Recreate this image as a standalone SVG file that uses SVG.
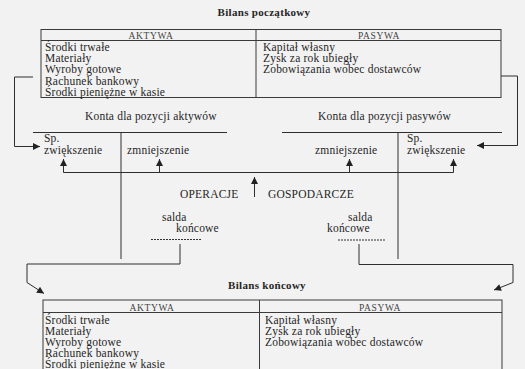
<svg xmlns="http://www.w3.org/2000/svg" width="525" height="369" viewBox="0 0 525 369">
<style>
text{font-family:"Liberation Serif","Times New Roman",serif;fill:#262626;font-size:11.5px;letter-spacing:0.2px}
.t{font-weight:bold;font-size:11px;letter-spacing:0.3px;text-anchor:middle}
.h{font-size:9.5px;letter-spacing:0.6px;text-anchor:middle;fill:#444}
.box{fill:none;stroke:#3a3a3a;stroke-width:1}
.ln{fill:none;stroke:#2e2e2e;stroke-width:1}
.dash{fill:none;stroke:#333;stroke-width:1;stroke-dasharray:2,1}
</style>
<defs>
<marker id="ah" viewBox="0 0 10 10" refX="10" refY="5" markerWidth="8" markerHeight="7" markerUnits="userSpaceOnUse" orient="auto">
<path d="M0,0 L10,5 L0,10 z" fill="#222"/>
</marker>
</defs>
<rect width="525" height="369" fill="#f2f2f2"/>

<g id="bilans-poczatkowy">
<text class="t" x="264" y="16">Bilans początkowy</text>
<rect class="box" x="41" y="29.5" width="460" height="68"/>
<line class="box" x1="41" y1="40.5" x2="501" y2="40.5"/>
<line class="box" x1="256" y1="29.5" x2="256" y2="97.5"/>
<text class="h" x="151" y="38.5">AKTYWA</text>
<text class="h" x="379" y="38.5">PASYWA</text>
<text x="45" y="50.5">Środki trwałe</text>
<text x="45" y="61.8">Materiały</text>
<text x="45" y="73.2">Wyroby gotowe</text>
<text x="45" y="84.5">Rachunek bankowy</text>
<text x="45" y="95.5">Środki pieniężne w kasie</text>
<text x="263" y="50.5">Kapitał własny</text>
<text x="263" y="61.8">Zysk za rok ubiegły</text>
<text x="263" y="73.2">Zobowiązania wobec dostawców</text>
</g>

<g id="konta-aktywow">
<text x="85" y="120">Konta dla pozycji aktywów</text>
<line class="ln" x1="33" y1="132.5" x2="227" y2="132.5"/>
<line class="ln" x1="121" y1="132.5" x2="121" y2="259"/>
<text x="44" y="141.5">Sp.</text>
<text x="44" y="153.5">zwiększenie</text>
<text x="127" y="153.5">zmniejszenie</text>
<text x="162" y="220.5">salda</text>
<text x="176" y="232">końcowe</text>
<line class="dash" x1="151" y1="239.5" x2="202" y2="239.5"/>
</g>

<g id="konta-pasywow">
<text x="318" y="120">Konta dla pozycji pasywów</text>
<line class="ln" x1="282" y1="132.5" x2="502" y2="132.5"/>
<line class="ln" x1="398" y1="132.5" x2="398" y2="259"/>
<text x="407" y="141.5">Sp.</text>
<text x="407" y="153.5">zwiększenie</text>
<text x="315" y="153.5">zmniejszenie</text>
<text x="348" y="220.5">salda</text>
<text x="327" y="232">końcowe</text>
<line class="dash" x1="338" y1="240" x2="385" y2="240"/>
</g>

<g id="operacje">
<text x="180" y="197.5">OPERACJE</text>
<text x="268" y="197.5">GOSPODARCZE</text>
</g>

<g id="bilans-koncowy">
<text class="t" x="267" y="288.5">Bilans końcowy</text>
<rect class="box" x="43" y="300" width="459" height="75"/>
<line class="box" x1="43" y1="312.5" x2="502" y2="312.5"/>
<line class="box" x1="259.5" y1="300" x2="259.5" y2="375"/>
<text class="h" x="152" y="310.5">AKTYWA</text>
<text class="h" x="380" y="310.5">PASYWA</text>
<text x="45" y="323.5">Środki trwałe</text>
<text x="45" y="334.8">Materiały</text>
<text x="45" y="346">Wyroby gotowe</text>
<text x="45" y="357.3">Rachunek bankowy</text>
<text x="45" y="368">Środki pieniężne w kasie</text>
<text x="265" y="323.5">Kapitał własny</text>
<text x="265" y="334.8">Zysk za rok ubiegły</text>
<text x="265" y="346">Zobowiązania wobec dostawców</text>
</g>

<g id="connectors">
<polyline class="ln" points="33,77 14.5,77 14.5,146.5 40,146.5" marker-end="url(#ah)"/>
<polyline class="ln" points="501,76 517.5,76 517.5,145.5 477,145.5" marker-end="url(#ah)"/>
<polyline class="ln" points="63.5,172.5 453.5,172.5"/>
<line class="ln" x1="63.5" y1="172.5" x2="63.5" y2="159" marker-end="url(#ah)"/>
<line class="ln" x1="159.5" y1="172.5" x2="159.5" y2="159" marker-end="url(#ah)"/>
<line class="ln" x1="349.5" y1="172.5" x2="349.5" y2="159" marker-end="url(#ah)"/>
<line class="ln" x1="453.5" y1="172.5" x2="453.5" y2="159" marker-end="url(#ah)"/>
<line class="ln" x1="254.5" y1="197" x2="254.5" y2="177" marker-end="url(#ah)"/>
<polyline class="ln" points="180,244 180,264 27,264 27,282.5 44,293.5" marker-end="url(#ah)"/>
<polyline class="ln" points="359,244 359,264.5 513,264.5 513,282.5 494,290" marker-end="url(#ah)"/>
</g>
</svg>
